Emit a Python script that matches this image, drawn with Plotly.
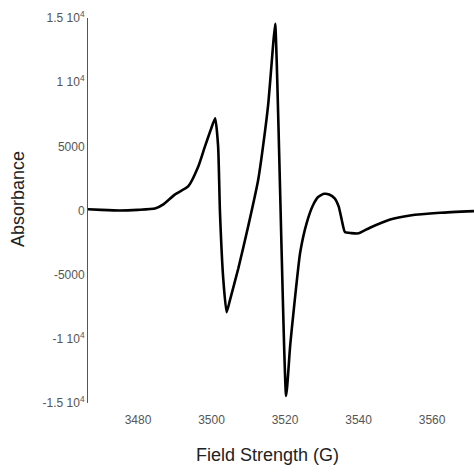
import plotly.graph_objects as go

field = [3466.4, 3470, 3475, 3480, 3484.6, 3487, 3490, 3493.7, 3496.4, 3498.2, 3499.8,
         3501.0, 3501.8, 3502.3, 3503.2, 3504.1, 3505.0, 3507.3, 3510.0, 3512.7, 3514.6,
         3515.5, 3516.5, 3517.3, 3520.3, 3521.4, 3522.3, 3524.1, 3525.9, 3527.7, 3529.0,
         3530.6, 3532.0, 3533.5, 3534.6, 3535.4, 3536.3, 3538.0, 3540.0, 3543.1, 3548.6,
         3554.0, 3562.2, 3571.4]
absorbance = [100, 50, 0, 50, 150, 500, 1240, 1900, 3430, 4980, 6300,
              7180, 4980, -160, -5350, -7930, -7000, -4500, -1200, 2400, 6280,
              8500, 12000, 14550, -14450, -10500, -7930, -3300, -960, 465, 1050,
              1300, 1250, 950, 300, -700, -1680, -1760, -1780, -1340, -700,
              -390, -180, -50]

x_ticks = [3480, 3500, 3520, 3540, 3560]
y_ticks = [15000, 10000, 5000, 0, -5000, -10000, -15000]
y_tick_text = ["1.5 10<sup>4</sup>", "1 10<sup>4</sup>", "5000", "0", "-5000",
               "-1 10<sup>4</sup>", "-1.5 10<sup>4</sup>"]

fig = go.Figure()
fig.add_trace(go.Scatter(x=field, y=absorbance, mode="lines",
                         line=dict(color="black", width=2.6, shape="spline", smoothing=0.5),
                         showlegend=False))

tick_font = dict(family="Liberation Sans, Arial", size=12, color="#555555")

fig.update_layout(
    width=474, height=474,
    margin=dict(l=88, r=0, t=18, b=71),
    paper_bgcolor="white", plot_bgcolor="white",
    xaxis=dict(range=[3466.4, 3571.4], tickvals=x_ticks, showgrid=False, zeroline=False,
               showline=False, ticks="outside", ticklen=6, tickcolor="white",
               tickfont=tick_font),
    yaxis=dict(range=[-15000, 15000], tickvals=y_ticks, ticktext=y_tick_text,
               showgrid=False, zeroline=False, showline=True, linecolor="#555555",
               linewidth=1, ticks="", tickfont=tick_font),
    annotations=[
        dict(text="Field Strength (G)", x=267, y=455, xref="paper", yref="paper",
             showarrow=False, font=dict(family="Liberation Sans, Arial", size=18, color="#222")),
        dict(text="Absorbance", x=18, y=199, xref="paper", yref="paper", textangle=-90,
             showarrow=False, font=dict(family="Liberation Sans, Arial", size=18, color="#222")),
    ],
)

# convert pixel positions for annotations into paper coordinates
pw = 474 - 88 - 0
ph = 474 - 18 - 71
for ann in fig.layout.annotations:
    px, py = ann.x, ann.y
    ann.x = (px - 88) / pw
    ann.y = (474 - 71 - py) / ph
    ann.xanchor = "center"
    ann.yanchor = "middle"

fig.write_html("out.html")
